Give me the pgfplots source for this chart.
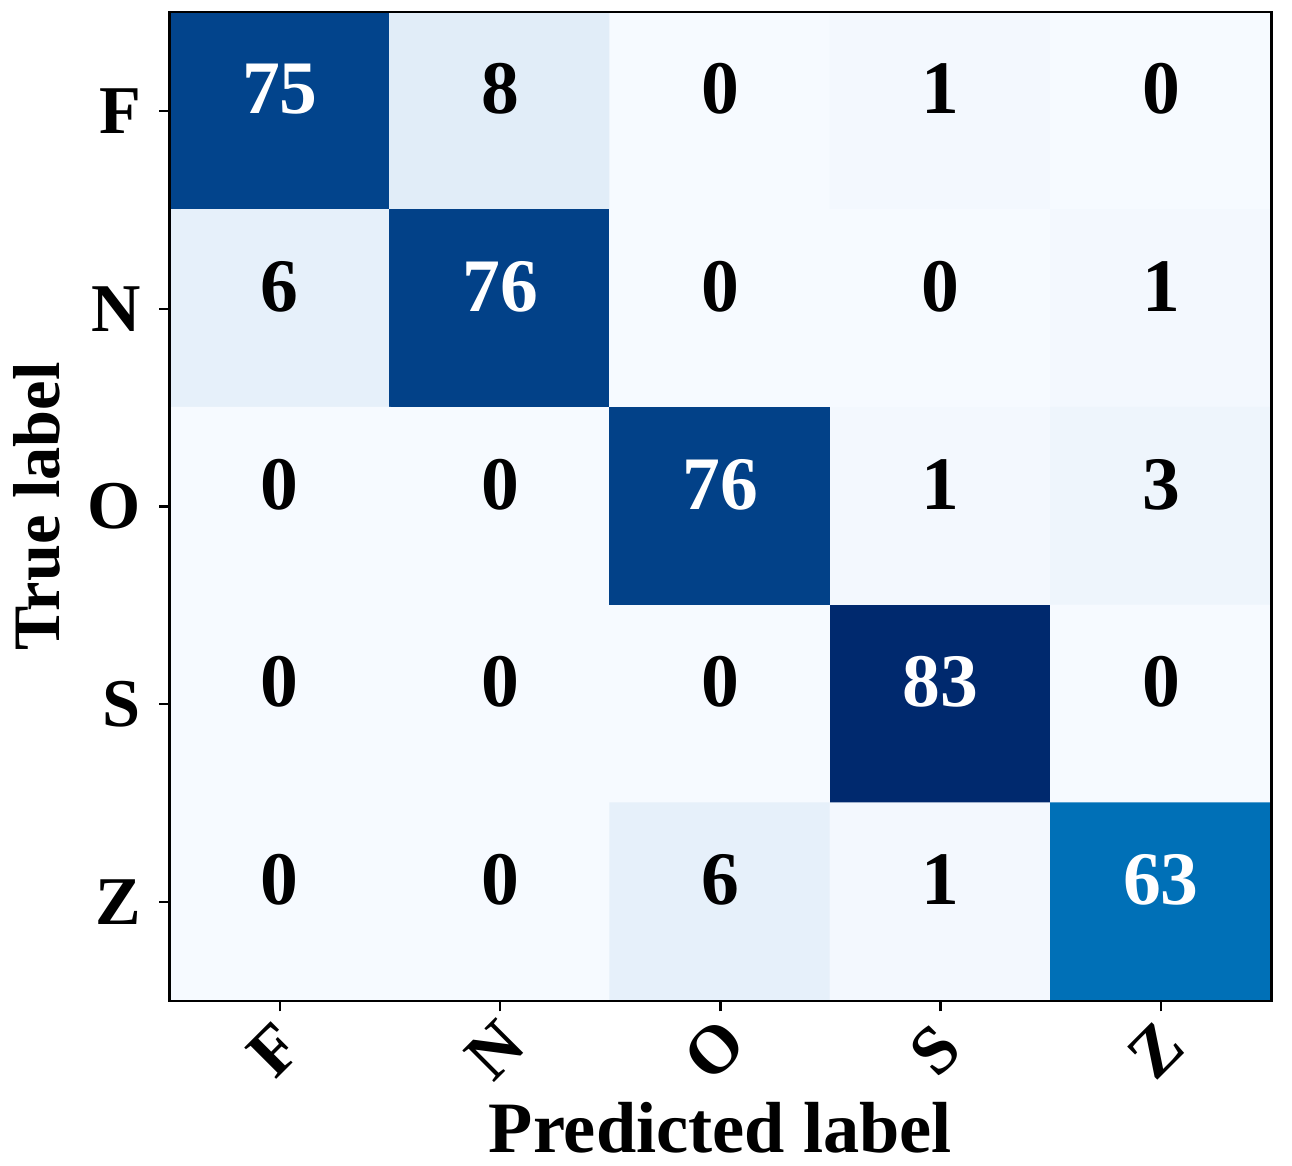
\documentclass[border=0pt]{standalone}
\usepackage{fontspec}
\setmainfont{Liberation Serif}
\usepackage{pgfplots}
\pgfplotsset{compat=1.18}

\pgfplotstableread{
x y c
0 0 75
1 0 8
2 0 0
3 0 1
4 0 0
0 1 6
1 1 76
2 1 0
3 1 0
4 1 1
0 2 0
1 2 0
2 2 76
3 2 1
4 2 3
0 3 0
1 3 0
2 3 0
3 3 83
4 3 0
0 4 0
1 4 0
2 4 6
3 4 1
4 4 63
}\cm

\begin{document}
\begin{tikzpicture}
\begin{axis}[
  scale only axis,
  width=274pt, height=246pt,
  xmin=-0.5, xmax=4.5, ymin=-0.5, ymax=4.5,
  y dir=reverse,
  xtick={0,1,2,3,4}, ytick={0,1,2,3,4},
  xticklabels={F,N,O,S,Z}, yticklabels={F,N,O,S,Z},
  xtick pos=bottom, ytick pos=left,
  tick align=outside, major tick length=2.6pt,
  tick style={black, line width=0.6pt},
  axis line style={line width=0.7pt},
  tick label style={font=\fontsize{17}{19}\selectfont\bfseries},
  xticklabel style={rotate=45, anchor=center, xshift=-7.8pt, yshift=-5.9pt},
  yticklabel style={xshift=-1pt},
  xlabel={Predicted label}, ylabel={True label},
  xlabel style={font=\fontsize{18}{20}\selectfont\bfseries, inner sep=3pt, yshift=3.7pt},
  ylabel style={font=\fontsize{16.5}{18}\selectfont\bfseries, yshift=0pt},
  colormap={cmblues}{rgb255(0cm)=(246,250,255) rgb255(8cm)=(225,237,248)
    rgb255(30cm)=(150,195,225) rgb255(63cm)=(0,112,183)
    rgb255(75cm)=(2,68,140) rgb255(83cm)=(0,41,110)},
  point meta min=0, point meta max=83,
  axis on top,
]
\addplot[matrix plot*, mesh/cols=5, point meta=explicit] table[x=x, y=y, meta=c] {\cm};
\addplot[draw=none, mark=none, nodes near coords, point meta=explicit symbolic,
  nodes near coords style={anchor=center, yshift=5.5pt, font=\fontsize{18.8}{20}\selectfont\bfseries},
  x filter/.expression={\thisrow{c}>41.5 ? nan : x}]
  table[x=x, y=y, meta=c] {\cm};
\addplot[draw=none, mark=none, nodes near coords, point meta=explicit symbolic,
  nodes near coords style={anchor=center, yshift=5.5pt, white, font=\fontsize{18.8}{20}\selectfont\bfseries},
  x filter/.expression={\thisrow{c}>41.5 ? x : nan}]
  table[x=x, y=y, meta=c] {\cm};
\end{axis}
\path (current axis.north east) ++(5.2pt,3pt) coordinate (ne);
\path (ne) rectangle (ne);
\end{tikzpicture}
\end{document}
